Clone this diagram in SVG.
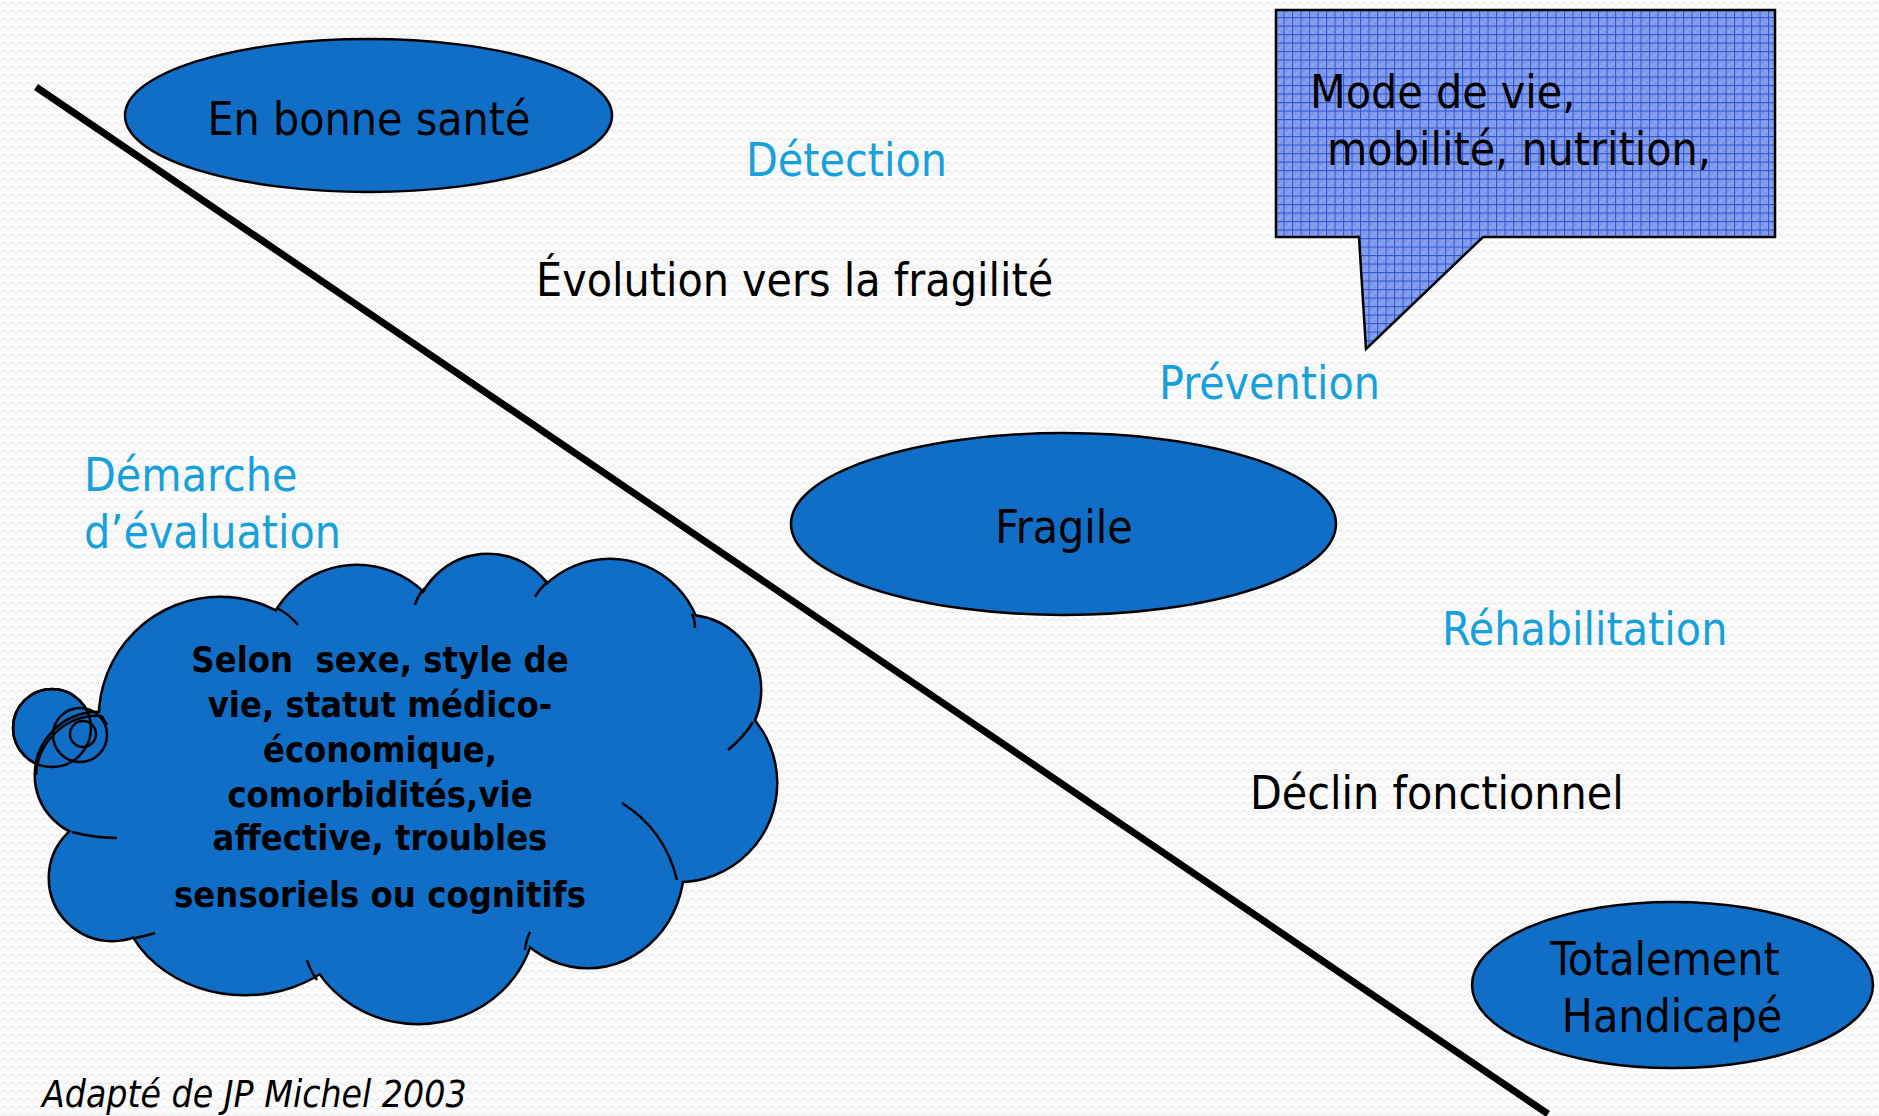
<svg xmlns="http://www.w3.org/2000/svg" width="1879" height="1116" viewBox="0 0 1879 1116">
<defs>
<pattern id="bg" width="8" height="8" patternUnits="userSpaceOnUse">
<rect width="8" height="8" fill="#fbfbfb"/>
<polyline points="0,5 4,2 8,5" fill="none" stroke="#ebebeb" stroke-width="1.2"/>
</pattern>
<pattern id="grid" width="8.5" height="8.5" patternUnits="userSpaceOnUse">
<rect width="8.5" height="8.5" fill="#88a1ec"/>
<rect x="2.5" y="2.5" width="2" height="2" fill="#7290e6"/>
<rect x="5.5" y="5.5" width="2" height="2" fill="#7290e6"/>
<path d="M0 0.5H8.5M0.5 0V8.5" stroke="#2f55d9" stroke-width="1.2"/>
</pattern>
<style>
.lbl{font-family:"DejaVu Sans Condensed","DejaVu Sans",sans-serif;font-stretch:condensed;font-size:46px;fill:#000}
.blue{fill:#16a0dc}
.node{fill:#106ec7;stroke:#000;stroke-width:2.5}
.cs{fill:#106ec7;stroke:#000;stroke-width:5}
.cf{fill:#106ec7;stroke:none}
.inner{fill:none;stroke:#000;stroke-width:2.5}
.bold{font-family:"DejaVu Sans Condensed","DejaVu Sans",sans-serif;font-stretch:condensed;font-weight:bold;font-size:36px;fill:#000}
</style>
</defs>
<rect width="1879" height="1116" fill="url(#bg)"/>

<g id="connectors">
<line x1="36" y1="87" x2="1548" y2="1114" stroke="#000" stroke-width="7"/>
</g>

<g id="node-bonne-sante">
<ellipse class="node" cx="368.5" cy="115.5" rx="243.5" ry="76.5"/>
<text class="lbl" x="369" y="135" text-anchor="middle">En bonne santé</text>
</g>

<g id="node-fragile">
<ellipse class="node" cx="1063.5" cy="524" rx="272.5" ry="91"/>
<text class="lbl" x="1064" y="543" text-anchor="middle">Fragile</text>
</g>

<g id="node-handicape">
<ellipse class="node" cx="1672.5" cy="985" rx="200.5" ry="83"/>
<text class="lbl" x="1665" y="975" text-anchor="middle">Totalement</text>
<text class="lbl" x="1672" y="1032" text-anchor="middle">Handicapé</text>
</g>

<g id="callout">
<polygon points="1276,10 1775,10 1775,237 1483,237 1366,349 1359,237 1276,237" fill="url(#grid)" stroke="#000" stroke-width="2.5"/>
<text class="lbl" x="1310" y="108">Mode de vie,</text>
<text class="lbl" x="1327" y="165">mobilité, nutrition,</text>
</g>

<g id="cloud">
<circle cx="52" cy="728" r="39" fill="#106ec7" stroke="#000" stroke-width="2.5"/>
<g>
<circle class="cs" cx="220" cy="718" r="120"/>
<circle class="cs" cx="357" cy="660" r="94"/>
<circle class="cs" cx="488" cy="628" r="73"/>
<circle class="cs" cx="610" cy="652" r="92"/>
<circle class="cs" cx="686" cy="690" r="74"/>
<circle class="cs" cx="678" cy="783" r="98"/>
<ellipse class="cs" cx="588" cy="865" rx="95" ry="102"/>
<ellipse class="cs" cx="418" cy="912" rx="117" ry="111"/>
<ellipse class="cs" cx="245" cy="888" rx="125" ry="106"/>
<circle class="cs" cx="112" cy="878" r="62"/>
<circle class="cs" cx="98" cy="775" r="62"/>
</g>
<g>
<circle class="cf" cx="220" cy="718" r="120"/>
<circle class="cf" cx="357" cy="660" r="94"/>
<circle class="cf" cx="488" cy="628" r="73"/>
<circle class="cf" cx="610" cy="652" r="92"/>
<circle class="cf" cx="686" cy="690" r="74"/>
<circle class="cf" cx="678" cy="783" r="98"/>
<ellipse class="cf" cx="588" cy="865" rx="95" ry="102"/>
<ellipse class="cf" cx="418" cy="912" rx="117" ry="111"/>
<ellipse class="cf" cx="245" cy="888" rx="125" ry="106"/>
<circle class="cf" cx="112" cy="878" r="62"/>
<circle class="cf" cx="98" cy="775" r="62"/>
<polygon class="cf" points="220,718 357,660 488,628 610,652 686,690 678,783 588,865 418,912 245,888 112,878 98,775"/>
</g>
<path class="inner" d="M277,608 Q289,614 298,625 M415,605 Q418,595 425,588 M535,597 Q540,588 549,581 M692,614 Q695,620 695,628 M753,722 Q743,738 728,750 M622,803 Q665,830 677,880 M525,950 Q526,940 530,932 M317,980 Q310,970 307,960 M135,938 Q146,936 155,933 M72,832 Q95,838 117,838 M102,716 Q104,721 107,725"/>
<path class="inner" d="M102,716 A62,62 0 0,0 36,775"/>
<circle cx="52" cy="728" r="39" fill="none" stroke="#000" stroke-width="2.5"/>
<circle cx="80" cy="735" r="27" fill="none" stroke="#000" stroke-width="2.5"/>
<circle cx="83" cy="734" r="13" fill="none" stroke="#000" stroke-width="2.5"/>
<text class="bold" x="380" y="672" text-anchor="middle" xml:space="preserve">Selon  sexe, style de</text>
<text class="bold" x="380" y="717" text-anchor="middle">vie, statut médico-</text>
<text class="bold" x="380" y="762" text-anchor="middle">économique,</text>
<text class="bold" x="380" y="807" text-anchor="middle">comorbidités,vie</text>
<text class="bold" x="380" y="850" text-anchor="middle">affective, troubles</text>
<text class="bold" x="380" y="907" text-anchor="middle">sensoriels ou cognitifs</text>
</g>

<g id="labels">
<text class="lbl blue" x="746" y="176">Détection</text>
<text class="lbl" x="536" y="296">Évolution vers la fragilité</text>
<text class="lbl blue" x="1159" y="399">Prévention</text>
<text class="lbl blue" x="84" y="491">Démarche</text>
<text class="lbl blue" x="84" y="548">d’évaluation</text>
<text class="lbl blue" x="1442" y="645">Réhabilitation</text>
<text class="lbl" x="1250" y="809">Déclin fonctionnel</text>
<text class="lbl" x="42" y="1107" style="font-style:italic;font-size:37px">Adapté de JP Michel 2003</text>
</g>
</svg>
